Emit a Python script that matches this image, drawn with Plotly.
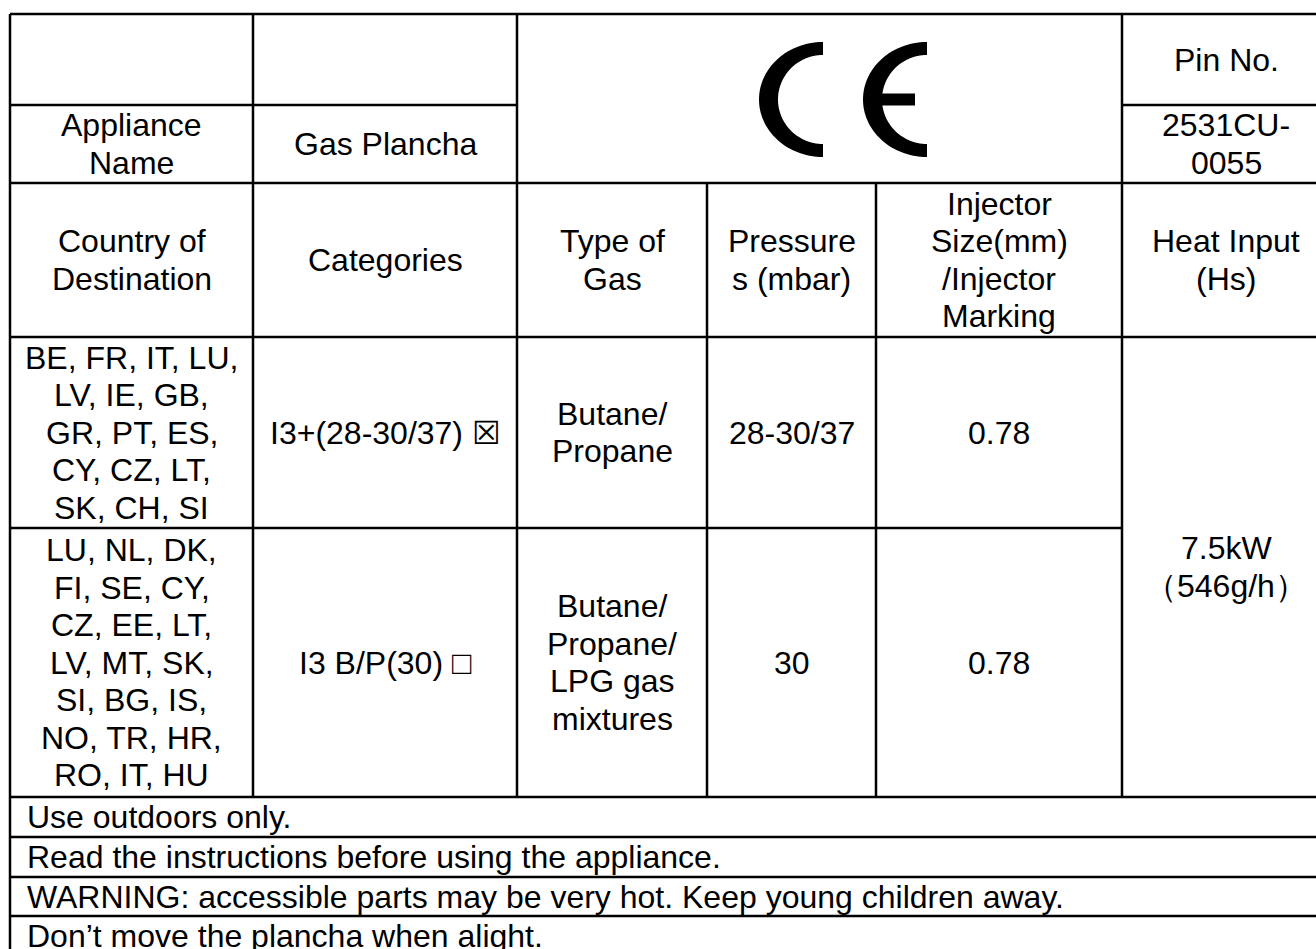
import numpy as np
import plotly.graph_objects as go

# ---------------- data (table content) ----------------
pin_label = ["Pin No."]
pin_number = ["2531CU-", "0055"]
appliance_label = ["Appliance", "Name"]
appliance_name = ["Gas Plancha"]
header_labels = [
    ["Country of", "Destination"],
    ["Categories"],
    ["Type of", "Gas"],
    ["Pressure", "s (mbar)"],
    ["Injector", "Size(mm)", "/Injector", "Marking"],
    ["Heat Input", "(Hs)"],
]
countries = [
    ["BE, FR, IT, LU,", "LV, IE, GB,", "GR, PT, ES,", "CY, CZ, LT,", "SK, CH, SI"],
    ["LU, NL, DK,", "FI, SE, CY,", "CZ, EE, LT,", "LV, MT, SK,", "SI, BG, IS,",
     "NO, TR, HR,", "RO, IT, HU"],
]
categories = [["I3+(28-30/37) \u2612"], ["I3 B/P(30) \u25a1"]]
gas_types = [["Butane/", "Propane"], ["Butane/", "Propane/", "LPG gas", "mixtures"]]
pressures = [["28-30/37"], ["30"]]
injector_sizes = [["0.78"], ["0.78"]]
heat_input = ["7.5kW", "\uff08546g/h\uff09"]
notes = [
    "Use outdoors only.",
    "Read the instructions before using the appliance.",
    "WARNING: accessible parts may be very hot. Keep young children away.",
    "Don\u2019t move the plancha when alight.",
]

# ---------------- layout geometry (pixels) ----------------
W, H = 1316, 949
XE = [10, 253, 517, 707, 876, 1122, 1330]
YE = [14, 105, 183, 337, 528, 797, 837, 877, 916, 956]
LW = 2.5
FS = 32
LS = 37.5
FONT = "Liberation Sans, Arial, Helvetica, sans-serif"

fig = go.Figure()
shapes = []
annotations = []


def hline(y, x0, x1):
    shapes.append(dict(type="line", x0=x0, x1=x1, y0=y, y1=y, xref="x", yref="y",
                       line=dict(color="black", width=LW)))


def vline(x, y0, y1):
    shapes.append(dict(type="line", x0=x, x1=x, y0=y0, y1=y1, xref="x", yref="y",
                       line=dict(color="black", width=LW)))


def cell_text(lines, x0, x1, y0, y1, align="center"):
    cy = (y0 + y1) / 2
    n = len(lines)
    for i, t in enumerate(lines):
        y = cy + (i - (n - 1) / 2) * LS
        if align == "center":
            x, xa = (x0 + x1) / 2, "center"
        else:
            x, xa = x0 + 15, "left"
        annotations.append(dict(x=x, y=y, xref="x", yref="y", text=t, showarrow=False,
                                xanchor=xa, yanchor="middle",
                                font=dict(family=FONT, size=FS, color="black")))


# grid lines
hline(YE[0], XE[0], XE[6])
hline(YE[1], XE[0], XE[2])
hline(YE[1], XE[5], XE[6])
hline(YE[2], XE[0], XE[6])
hline(YE[3], XE[0], XE[6])
hline(YE[4], XE[0], XE[5])
for k in range(5, 10):
    hline(YE[k], XE[0], XE[6])
vline(XE[0], YE[0], YE[9])
vline(XE[6], YE[0], YE[9])
vline(XE[1], YE[0], YE[5])
vline(XE[2], YE[0], YE[5])
vline(XE[3], YE[2], YE[5])
vline(XE[4], YE[2], YE[5])
vline(XE[5], YE[0], YE[5])

# top block
cell_text(appliance_label, XE[0], XE[1], YE[1], YE[2])
cell_text(appliance_name, XE[1], XE[2], YE[1], YE[2])
cell_text(pin_label, XE[5], XE[6], YE[0], YE[1])
cell_text(pin_number, XE[5], XE[6], YE[1], YE[2])

# header row
for c, lab in enumerate(header_labels):
    cell_text(lab, XE[c], XE[c + 1], YE[2], YE[3])

# data rows
for r in range(2):
    y0, y1 = YE[3 + r], YE[4 + r]
    cell_text(countries[r], XE[0], XE[1], y0, y1)
    cell_text(categories[r], XE[1], XE[2], y0, y1)
    cell_text(gas_types[r], XE[2], XE[3], y0, y1)
    cell_text(pressures[r], XE[3], XE[4], y0, y1)
    cell_text(injector_sizes[r], XE[4], XE[5], y0, y1)
cell_text(heat_input, XE[5], XE[6], YE[3], YE[5])

# notes
for i, t in enumerate(notes):
    cell_text([t], XE[0], XE[6], YE[5 + i], YE[6 + i], align="left")


# CE mark drawn as filled paths
def half_ring(cx, cy, rxo, ryo, rxi, ryi, n=60):
    t = np.linspace(np.pi / 2, 3 * np.pi / 2, n)
    xo, yo = cx + rxo * np.cos(t), cy - ryo * np.sin(t)
    xi, yi = cx + rxi * np.cos(t[::-1]), cy - ryi * np.sin(t[::-1])
    xs = np.concatenate([xo, xi])
    ys = np.concatenate([yo, yi])
    return "M " + " L ".join(f"{a:.2f},{b:.2f}" for a, b in zip(xs, ys)) + " Z"


ce_cy = 99.5
ry_o, rx_o = 57.5, 64
ry_i, rx_i = 44.5, 45
for cx in (823, 927):
    shapes.append(dict(type="path", path=half_ring(cx, ce_cy, rx_o, ry_o, rx_i, ry_i),
                       xref="x", yref="y", fillcolor="black", line=dict(width=0)))
# E middle bar
shapes.append(dict(type="rect", x0=927 - rx_i - 2, x1=915, y0=ce_cy - 6, y1=ce_cy + 6,
                   xref="x", yref="y", fillcolor="black", line=dict(width=0)))

fig.update_layout(
    width=W, height=H, margin=dict(l=0, r=0, t=0, b=0),
    paper_bgcolor="white", plot_bgcolor="white",
    xaxis=dict(range=[0, W], visible=False, fixedrange=True),
    yaxis=dict(range=[H, 0], visible=False, fixedrange=True),
    shapes=shapes, annotations=annotations, showlegend=False,
)

fig.write_html("out.html", config={"displayModeBar": False},
               post_script="document.body.style.margin='0';")
